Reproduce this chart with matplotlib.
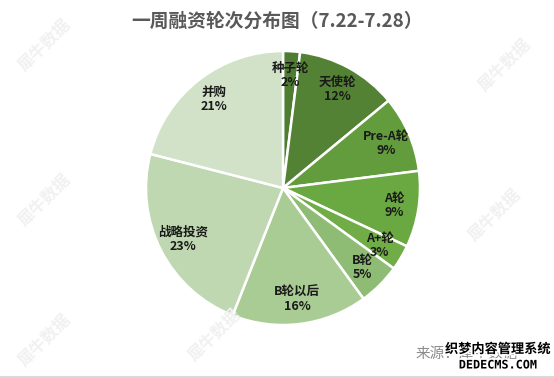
import matplotlib
matplotlib.use('Agg')
import matplotlib.pyplot as plt
import matplotlib.patheffects as pe

plt.rcParams['font.family'] = ['Noto Sans CJK SC', 'DejaVu Sans']

# data
rounds = ['种子轮', '天使轮', 'Pre-A轮', 'A轮', 'A+轮', 'B轮', 'B轮以后', '战略投资', '并购']
shares = [2, 12, 9, 9, 3, 5, 16, 23, 21]
colors = ['#4E7D32', '#548235', '#629C3D', '#6AA842', '#70AD47',
          '#8FBC74', '#A9CC94', '#BFD8B2', '#D2E2C9']

W, H = 554, 378
fig = plt.figure(figsize=(W / 100, H / 100), dpi=100)
fig.patch.set_facecolor('white')

# faint watermarks in the background
marks = [(45, 45), (45, 200), (45, 340), (505, 65), (495, 215), (215, 335)]
for x, y in marks:
    fig.text(x / W, 1 - y / H, '犀牛数据', fontsize=12, fontweight='bold',
             color='#f1f1f1', rotation=45, ha='center', va='center', zorder=0)

cx, cy, r = 283, 188, 137
ax = fig.add_axes([(cx - r) / W, (H - cy - r) / H, 2 * r / W, 2 * r / H])
wedges, texts = ax.pie(shares, colors=colors, startangle=90, counterclock=False,
                       labels=[f'{n}\n{v}%' for n, v in zip(rounds, shares)],
                       labeldistance=0.82,
                       wedgeprops=dict(edgecolor='white', linewidth=1.8),
                       textprops=dict(fontsize=9, color='#1a1a1a', fontweight='bold'))
for t in texts:
    t.set_ha('center')
    t.set_va('center')
    t.set_linespacing(1.1)
ax.set_xlim(-1, 1)
ax.set_ylim(-1, 1)
ax.axis('off')

fig.text(277 / W, 1 - 21 / H, '一周融资轮次分布图（7.22-7.28）', fontsize=13.5,
         fontweight='bold', color='#595959', ha='center', va='center')

fig.text(416 / W, 1 - 354 / H, '来源：犀牛数据', fontsize=10.5, color='#8c8c8c',
         ha='left', va='center')
stroke = [pe.withStroke(linewidth=2.5, foreground='white')]
fig.text(498 / W, 1 - 349 / H, '织梦内容管理系统', fontsize=9.5, fontweight='bold',
         color='black', ha='center', va='center', path_effects=stroke)
fig.text(498 / W, 1 - 365 / H, 'DEDECMS.COM', fontsize=8.5, fontweight='bold',
         family='DejaVu Sans Mono', color='black', ha='center', va='center',
         path_effects=stroke)

# thin frame line at the bottom like the screenshot
fig.add_artist(plt.Line2D([0, 1], [1.5 / H, 1.5 / H], color='#d9d9d9', lw=1.5))

fig.savefig('out.png', dpi=100, facecolor='white')
